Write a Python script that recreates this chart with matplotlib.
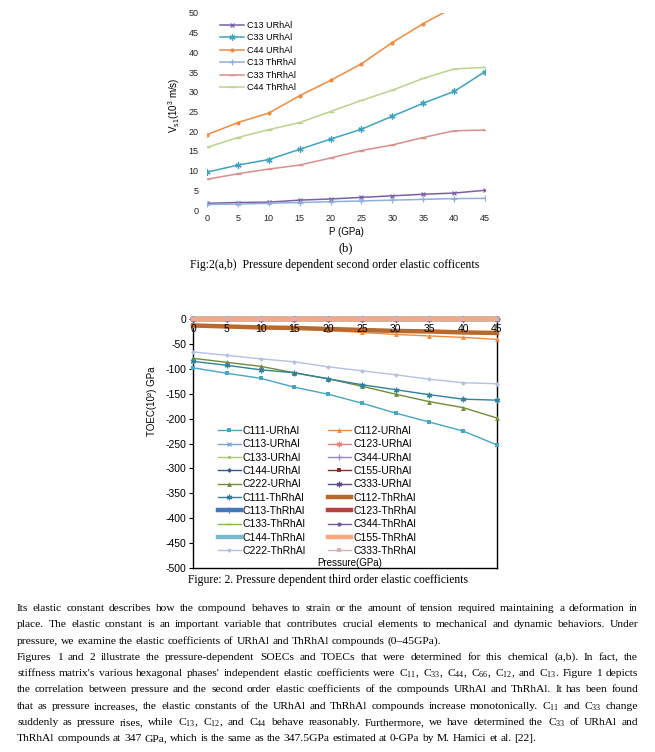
import matplotlib
matplotlib.use('Agg')
import matplotlib.pyplot as plt

plt.rcParams['axes.unicode_minus'] = False
SANS = 'Liberation Sans'
SERIF = 'Liberation Serif'
W, H = 655, 752

# ---------------- data ----------------
pressure = [0, 5, 10, 15, 20, 25, 30, 35, 40, 45]

# second order elastic constants (Fig. 2b)
soec_labels = ['C13 URhAl', 'C33 URhAl', 'C44 URhAl', 'C13 ThRhAl', 'C33 ThRhAl', 'C44 ThRhAl']
c13_u = [1.7, 1.9, 2.0, 2.5, 2.8, 3.2, 3.6, 4.0, 4.3, 5.0]
c33_u = [9.6, 11.4, 12.8, 15.4, 18.0, 20.5, 23.8, 27.1, 30.1, 35.1]
c44_u = [19.1, 22.2, 24.6, 29.0, 32.9, 37.1, 42.5, 47.3, 51.5, 56.0]
c13_th = [1.4, 1.5, 1.7, 1.9, 2.1, 2.3, 2.5, 2.7, 2.9, 2.95]
c33_th = [7.8, 9.2, 10.4, 11.4, 13.2, 15.1, 16.5, 18.4, 20.1, 20.3]
c44_th = [15.9, 18.4, 20.4, 22.2, 25.0, 27.8, 30.4, 33.4, 35.8, 36.2]

# third order elastic constants (Fig. 2)
toec_labels = ['C111-URhAl', 'C112-URhAl', 'C113-URhAl', 'C123-URhAl', 'C133-URhAl',
               'C344-URhAl', 'C144-URhAl', 'C155-URhAl', 'C222-URhAl', 'C333-URhAl',
               'C111-ThRhAl', 'C112-ThRhAl', 'C113-ThRhAl', 'C123-ThRhAl', 'C133-ThRhAl',
               'C344-ThRhAl', 'C144-ThRhAl', 'C155-ThRhAl', 'C222-ThRhAl', 'C333-ThRhAl']
c111_u = [-98, -109, -119, -137, -151, -169, -189, -207, -225, -253]
c112_u = [-12, -15, -18, -20, -23, -27, -31, -34, -37, -41]
c113_u = [-1, -1, -1, -1, -1, -1, -1, -1, -1, -1]
c123_u = [-1, -1, -1, -1, -1, -1, -1, -1, -1, -1]
c133_u = [-1, -1, -1, -1, -1, -1, -1, -1, -1, -1]
c344_u = [-1, -1, -1, -1, -1, -1, -1, -1, -1, -1]
c144_u = [-1, -1, -1, -1, -1, -1, -1, -1, -1, -1]
c155_u = [-1, -1, -1, -1, -1, -1, -1, -1, -1, -1]
c222_u = [-79, -87, -95, -108, -120, -135, -151, -166, -178, -199]
c333_u = [-1, -1, -1, -1, -1, -1, -1, -1, -1, -1]
c111_th = [-85, -93, -102, -108, -120, -132, -142, -152, -161, -163]
c112_th = [-13, -15, -17, -18, -20, -22, -24, -25, -27, -28]
c113_th = [-1, -1, -1, -1, -1, -1, -1, -1, -1, -1]
c123_th = [-1, -1, -1, -1, -1, -1, -1, -1, -1, -1]
c133_th = [-1, -1, -1, -1, -1, -1, -1, -1, -1, -1]
c344_th = [-1, -1, -1, -1, -1, -1, -1, -1, -1, -1]
c144_th = [-1, -1, -1, -1, -1, -1, -1, -1, -1, -1]
c155_th = [-1, -1, -1, -1, -1, -1, -1, -1, -1, -1]
c222_th = [-66, -73, -80, -86, -96, -104, -112, -121, -128, -130]
c333_th = [-1, -1, -1, -1, -1, -1, -1, -1, -1, -1]

soec_ticks = [0, 5, 10, 15, 20, 25, 30, 35, 40, 45, 50]
toec_ticks = [0, -50, -100, -150, -200, -250, -300, -350, -400, -450, -500]

# ---------------- figure ----------------
fig = plt.figure(figsize=(W / 100, H / 100), dpi=100)
fig.patch.set_facecolor('white')


def ax_box(x0, y0, x1, y1):
    return [x0 / W, 1 - y1 / H, (x1 - x0) / W, (y1 - y0) / H]


AST = (6, 2, 0)

# ---------- top chart ----------
ax1 = fig.add_axes(ax_box(207, 13, 485, 210))
soec_series = [c13_u, c33_u, c44_u, c13_th, c33_th, c44_th]
soec_style = [
    dict(color='#7B5FA6', marker='x', ms=3.5, mew=0.9),
    dict(color='#3FA3BF', marker=AST, ms=4.5, mew=0.9),
    dict(color='#F08A3C', marker='o', ms=3, mew=0),
    dict(color='#8FB0DA', marker='+', ms=4, mew=0.9),
    dict(color='#D98F8C', marker='_', ms=4, mew=1.0),
    dict(color='#BBD28E', marker='_', ms=4, mew=1.0),
]
h1 = []
for vals, st, lab in zip(soec_series, soec_style, soec_labels):
    ln, = ax1.plot(pressure, vals, lw=1.1, label=lab, **st)
    h1.append(ln)
ax1.set_xlim(0, 45)
ax1.set_ylim(0, 50)
ax1.set_xticks(pressure)
ax1.set_yticks(soec_ticks)
for s in ax1.spines.values():
    s.set_visible(False)
ax1.tick_params(axis='both', length=0, labelsize=6.5, colors='#222222')
ax1.tick_params(axis='x', pad=3)
ax1.tick_params(axis='y', pad=6)
for lab in ax1.get_xticklabels() + ax1.get_yticklabels():
    lab.set_family(SANS)
ax1.legend(handles=h1, loc='upper left', bbox_to_anchor=(220 / W, 1 - 21 / H),
           bbox_transform=fig.transFigure, frameon=False, borderpad=0, borderaxespad=0,
           handlelength=2.65, handletextpad=0.3, labelspacing=0.38,
           prop=dict(family=SANS, size=6.5))
fig.text(174 / W, 1 - 105 / H, r'V$_{\mathregular{s1}}$(10$^{\mathregular{3}}$ m/s)',
         rotation=90, ha='center', va='center', family=SANS, fontsize=7)
fig.text(346 / W, 1 - 232 / H, 'P (GPa)', ha='center', va='center', family=SANS, fontsize=7)

# ---------- bottom chart ----------
ax2 = fig.add_axes(ax_box(193, 319, 497, 568))
toec_series = [c111_u, c112_u, c113_u, c123_u, c133_u, c344_u, c144_u, c155_u, c222_u, c333_u,
               c111_th, c112_th, c113_th, c123_th, c133_th, c344_th, c144_th, c155_th, c222_th, c333_th]
toec_style = [
    dict(color='#46A6C2', marker='s', ms=3, mew=0, lw=1.0),
    dict(color='#F28B3E', marker='^', ms=3.5, mew=0, lw=1.0),
    dict(color='#7FA2D6', marker='x', ms=3.5, mew=0.9, lw=1.0),
    dict(color='#E5837F', marker=AST, ms=4, mew=0.9, lw=1.0),
    dict(color='#A6C870', marker='o', ms=2.5, mew=0, lw=1.0),
    dict(color='#9C87BE', marker='+', ms=4.5, mew=0.9, lw=1.0),
    dict(color='#2D5A8E', marker='D', ms=2.5, mew=0, lw=1.0),
    dict(color='#8B2E2B', marker='s', ms=3, mew=0, lw=1.0),
    dict(color='#6F8D34', marker='^', ms=3.5, mew=0, lw=1.0),
    dict(color='#5E4A8A', marker=AST, ms=4, mew=0.9, lw=1.0),
    dict(color='#2F8299', marker=AST, ms=4, mew=0.9, lw=1.0),
    dict(color='#B9692C', marker='o', ms=2, mew=0, lw=3.2),
    dict(color='#4677BA', marker='+', ms=4.5, mew=0.9, lw=3.2),
    dict(color='#B8423F', marker=None, lw=3.2),
    dict(color='#8CB846', marker='_', ms=4, mew=1.0, lw=1.0),
    dict(color='#7556A3', marker='o', ms=3, mew=0, lw=1.0),
    dict(color='#7AB8CE', marker=None, lw=3.2),
    dict(color='#F7A77A', marker=None, lw=3.2),
    dict(color='#B3C2E1', marker='D', ms=2.5, mew=0, lw=1.0),
    dict(color='#DCAFAE', marker='s', ms=3, mew=0, lw=1.0),
]
h2 = []
for i, (vals, st, lab) in enumerate(zip(toec_series, toec_style, toec_labels)):
    ln, = ax2.plot(pressure, vals, label=lab, clip_on=False, zorder=3 + i * 0.01, **st)
    h2.append(ln)
ax2.set_xlim(0, 45)
ax2.set_ylim(-500, 0)
ax2.set_xticks(pressure)
ax2.set_yticks(toec_ticks)
for s in ax2.spines.values():
    s.set_color('black')
    s.set_linewidth(1.0)
    s.set_zorder(2)
ax2.xaxis.set_ticks_position('top')
ax2.tick_params(axis='x', which='both', top=True, bottom=False, labeltop=True, labelbottom=False,
                length=0, pad=-10.5, labelsize=7.5, colors='black')
ax2.tick_params(axis='y', direction='out', length=3, width=0.8, pad=2, labelsize=7.5, colors='black')
for lab in ax2.get_xticklabels() + ax2.get_yticklabels():
    lab.set_family(SANS)
ax2.xaxis.set_zorder(10)

col1 = [0, 2, 4, 6, 8, 10, 12, 14, 16, 18]
col2 = [1, 3, 5, 7, 9, 11, 13, 15, 17, 19]
leg_kw = dict(loc='upper left', bbox_transform=fig.transFigure, frameon=False, borderpad=0,
              borderaxespad=0, handlelength=2.2, handletextpad=0.2, labelspacing=0.32,
              prop=dict(family=SANS, size=7.5))
lg1 = ax2.legend(handles=[h2[i] for i in col1], bbox_to_anchor=(218 / W, 1 - 426 / H), **leg_kw)
ax2.add_artist(lg1)
lg2 = ax2.legend(handles=[h2[i] for i in col2], bbox_to_anchor=(328 / W, 1 - 426 / H), **leg_kw)
lg1.set_zorder(20)
lg2.set_zorder(20)

fig.text(350 / W, 1 - 563 / H, 'Pressure(GPa)', ha='center', va='center', family=SANS,
         fontsize=7, zorder=30)
fig.text(152 / W, 1 - 401 / H, 'TOEC(10²) GPa', rotation=90, ha='center', va='center',
         family=SANS, fontsize=7)

# ---------- captions & body text ----------
renderer = fig.canvas.get_renderer()


def fit_text(s, x0, x1, y):
    t = fig.text(x0 / W, 1 - y / H, s, family=SERIF, fontsize=10, va='center', ha='left')
    w = t.get_window_extent(renderer=renderer).width
    t.set_fontsize(10 * (x1 - x0) / w)
    return t


fit_text('Fig:2(a,b)  Pressure dependent second order elastic cofficents', 190, 480, 265)
fig.text(346 / W, 1 - 248 / H, '(b)', family=SERIF, fontsize=9, ha='center', va='center')
fit_text('Figure: 2. Pressure dependent third order elastic coefficients', 188, 467, 580)

body = [
    ("Its elastic constant describes how the compound behaves to strain or the amount of tension required maintaining a deformation in", True),
    ("place. The elastic constant is an important variable that contributes crucial elements to mechanical and dynamic behaviors. Under", True),
    ("pressure, we examine the elastic coefficients of URhAl and ThRhAl compounds (0\u201345GPa).", False),
    ("Figures 1 and 2 illustrate the pressure-dependent SOECs and TOECs that were determined for this chemical (a,b). In fact, the", True),
    ("stiffness matrix's various hexagonal phases' independent elastic coefficients were C$_\\mathregular{11}$, C$_\\mathregular{33}$, C$_\\mathregular{44}$, C$_\\mathregular{66}$, C$_\\mathregular{12}$, and C$_\\mathregular{13}$. Figure 1 depicts", True),
    ("the correlation between pressure and the second order elastic coefficients of the compounds URhAl and ThRhAl. It has been found", True),
    ("that as pressure increases, the elastic constants of the URhAl and ThRhAl compounds increase monotonically. C$_\\mathregular{11}$ and C$_\\mathregular{33}$ change", True),
    ("suddenly as pressure rises, while C$_\\mathregular{13}$, C$_\\mathregular{12}$, and C$_\\mathregular{44}$ behave reasonably. Furthermore, we have determined the C$_\\mathregular{33}$ of URhAl and", True),
    ("ThRhAl compounds at 347 GPa, which is the same as the 347.5GPa estimated at 0-GPa by M. Hamici et al. [22].", False),
]

X0, X1 = 17, 638


def word_widths(s, fs):
    objs, widths = [], []
    for wd in s.split(' '):
        t = fig.text(0, 0, wd, family=SERIF, fontsize=fs, va='baseline', ha='left')
        objs.append(t)
        widths.append(t.get_window_extent(renderer=renderer).width)
    return objs, widths


# body font size: the widest justified line at natural spacing fills ~97% of the column
maxw = 0
for s, just in body:
    if just:
        objs, widths = word_widths(s, 10)
        nat = sum(widths) + (len(objs) - 1) * 10 * 100 / 72 * 0.25
        maxw = max(maxw, nat)
        for t in objs:
            t.remove()
body_fs = 10 * 0.975 * (X1 - X0) / maxw

for i, (s, just) in enumerate(body):
    y = 611 + 16.3 * i
    objs, widths = word_widths(s, body_fs)
    if just:
        gap = (X1 - X0 - sum(widths)) / (len(objs) - 1)
    else:
        gap = body_fs * 100 / 72 * 0.25
    x = X0
    for t, w in zip(objs, widths):
        t.set_position((x / W, 1 - y / H))
        x += w + gap

fig.savefig('out.png', dpi=100, facecolor='white')
